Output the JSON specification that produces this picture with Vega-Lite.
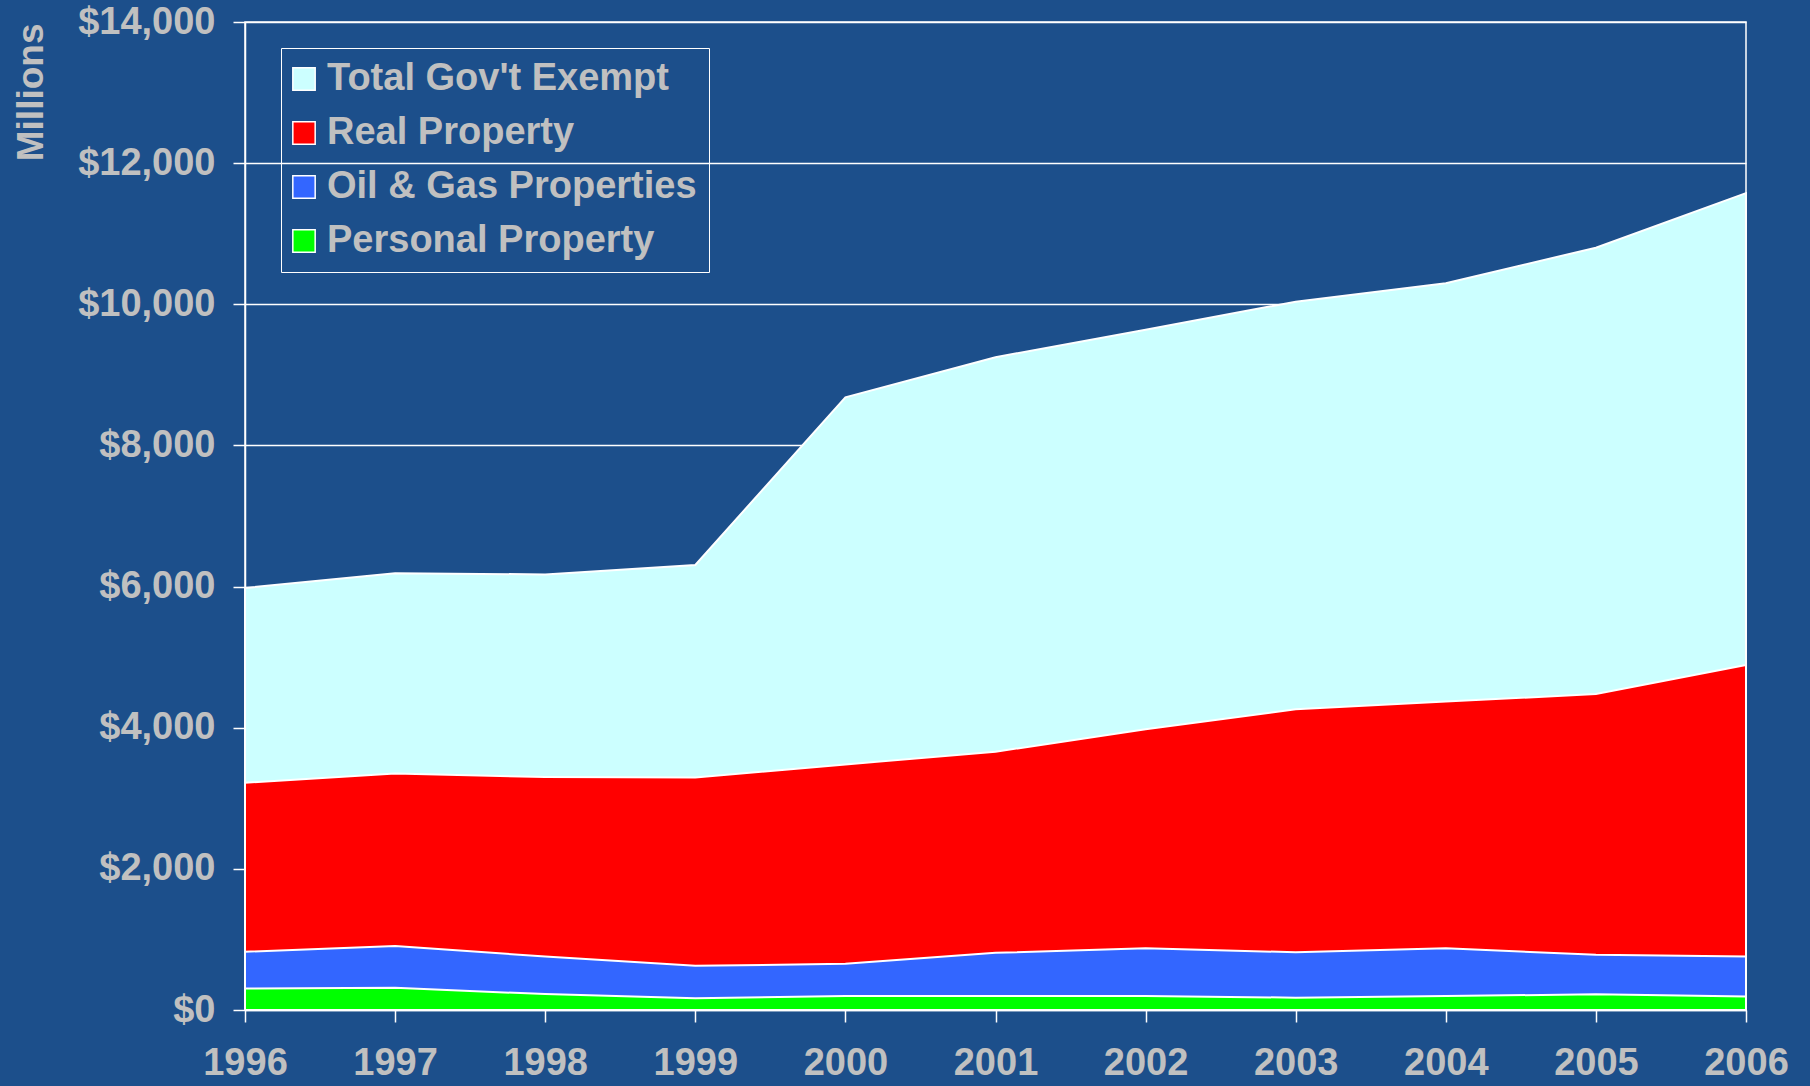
{
  "$schema": "https://vega.github.io/schema/vega-lite/v6.json",
  "width": 1501,
  "height": 988,
  "autosize": {"type": "none"},
  "padding": {"left": 245, "top": 22, "right": 64, "bottom": 76},
  "background": "#1c4f8b",
  "config": {
    "view": {"stroke": "white", "strokeWidth": 1.5},
    "font": "Liberation Sans",
    "axis": {
      "labelFont": "Liberation Sans",
      "labelFontWeight": "bold",
      "labelColor": "#c0c0c0",
      "labelFontSize": 38,
      "domainColor": "white",
      "domainWidth": 1.5,
      "tickColor": "white",
      "tickWidth": 1.5,
      "tickSize": 12,
      "gridColor": "white",
      "gridWidth": 1.5,
      "gridOpacity": 1
    }
  },
  "data": {
    "values": [
      {"Year": 1996, "Series": "Total Gov't Exempt", "Value": 5980},
      {"Year": 1997, "Series": "Total Gov't Exempt", "Value": 6190},
      {"Year": 1998, "Series": "Total Gov't Exempt", "Value": 6172},
      {"Year": 1999, "Series": "Total Gov't Exempt", "Value": 6306},
      {"Year": 2000, "Series": "Total Gov't Exempt", "Value": 8682},
      {"Year": 2001, "Series": "Total Gov't Exempt", "Value": 9250},
      {"Year": 2002, "Series": "Total Gov't Exempt", "Value": 9640},
      {"Year": 2003, "Series": "Total Gov't Exempt", "Value": 10037},
      {"Year": 2004, "Series": "Total Gov't Exempt", "Value": 10298},
      {"Year": 2005, "Series": "Total Gov't Exempt", "Value": 10802},
      {"Year": 2006, "Series": "Total Gov't Exempt", "Value": 11575},
      {"Year": 1996, "Series": "Real Property", "Value": 3220},
      {"Year": 1997, "Series": "Real Property", "Value": 3350},
      {"Year": 1998, "Series": "Real Property", "Value": 3300},
      {"Year": 1999, "Series": "Real Property", "Value": 3295},
      {"Year": 2000, "Series": "Real Property", "Value": 3480},
      {"Year": 2001, "Series": "Real Property", "Value": 3660},
      {"Year": 2002, "Series": "Real Property", "Value": 3978},
      {"Year": 2003, "Series": "Real Property", "Value": 4260},
      {"Year": 2004, "Series": "Real Property", "Value": 4370},
      {"Year": 2005, "Series": "Real Property", "Value": 4478},
      {"Year": 2006, "Series": "Real Property", "Value": 4889},
      {"Year": 1996, "Series": "Oil & Gas Properties", "Value": 825},
      {"Year": 1997, "Series": "Oil & Gas Properties", "Value": 908},
      {"Year": 1998, "Series": "Oil & Gas Properties", "Value": 758},
      {"Year": 1999, "Series": "Oil & Gas Properties", "Value": 626},
      {"Year": 2000, "Series": "Oil & Gas Properties", "Value": 655},
      {"Year": 2001, "Series": "Oil & Gas Properties", "Value": 810},
      {"Year": 2002, "Series": "Oil & Gas Properties", "Value": 874},
      {"Year": 2003, "Series": "Oil & Gas Properties", "Value": 818},
      {"Year": 2004, "Series": "Oil & Gas Properties", "Value": 874},
      {"Year": 2005, "Series": "Oil & Gas Properties", "Value": 782},
      {"Year": 2006, "Series": "Oil & Gas Properties", "Value": 758},
      {"Year": 1996, "Series": "Personal Property", "Value": 305},
      {"Year": 1997, "Series": "Personal Property", "Value": 315},
      {"Year": 1998, "Series": "Personal Property", "Value": 225},
      {"Year": 1999, "Series": "Personal Property", "Value": 167},
      {"Year": 2000, "Series": "Personal Property", "Value": 198},
      {"Year": 2001, "Series": "Personal Property", "Value": 198},
      {"Year": 2002, "Series": "Personal Property", "Value": 198},
      {"Year": 2003, "Series": "Personal Property", "Value": 175},
      {"Year": 2004, "Series": "Personal Property", "Value": 198},
      {"Year": 2005, "Series": "Personal Property", "Value": 222},
      {"Year": 2006, "Series": "Personal Property", "Value": 190}
    ]
  },
  "mark": {"type": "area", "stroke": "white", "strokeWidth": 2, "opacity": 1, "fillOpacity": 1},
  "encoding": {
    "x": {
      "field": "Year",
      "type": "quantitative",
      "scale": {"domain": [1996, 2006], "nice": false, "zero": false},
      "axis": {
        "values": [1996, 1997, 1998, 1999, 2000, 2001, 2002, 2003, 2004, 2005, 2006],
        "format": "d",
        "title": null,
        "grid": false,
        "labelPadding": 22,
        "labelFlush": false,
        "labelOverlap": false,
        "labelBound": false
      }
    },
    "y": {
      "field": "Value",
      "type": "quantitative",
      "stack": null,
      "scale": {"domain": [0, 14000], "nice": false},
      "axis": {
        "values": [0, 2000, 4000, 6000, 8000, 10000, 12000, 14000],
        "format": "$,d",
        "title": "Millions",
        "titleFont": "Liberation Sans",
        "titleFontWeight": "bold",
        "titleFontSize": 37,
        "titleColor": "#c0c0c0",
        "titleX": -214,
        "titleY": 1,
        "titleAlign": "right",
        "titleBaseline": "middle",
        "labelPadding": 18
      }
    },
    "color": {
      "field": "Series",
      "type": "nominal",
      "scale": {
        "domain": ["Total Gov't Exempt", "Real Property", "Oil & Gas Properties", "Personal Property"],
        "range": ["#ccffff", "#ff0000", "#3366ff", "#00ff00"]
      },
      "legend": {
        "orient": "none",
        "legendX": 36,
        "legendY": 26,
        "title": null,
        "direction": "vertical",
        "labelFont": "Liberation Sans",
        "labelFontWeight": "bold",
        "labelFontSize": 38,
        "labelColor": "#c0c0c0",
        "labelLimit": 600,
        "labelOffset": 4,
        "symbolOffset": -8,
        "symbolType": "square",
        "symbolSize": 500,
        "symbolStrokeColor": "white",
        "symbolStrokeWidth": 1.5,
        "symbolOpacity": 1,
        "rowPadding": 16,
        "padding": 12,
        "strokeColor": "white"
      }
    }
  }
}
